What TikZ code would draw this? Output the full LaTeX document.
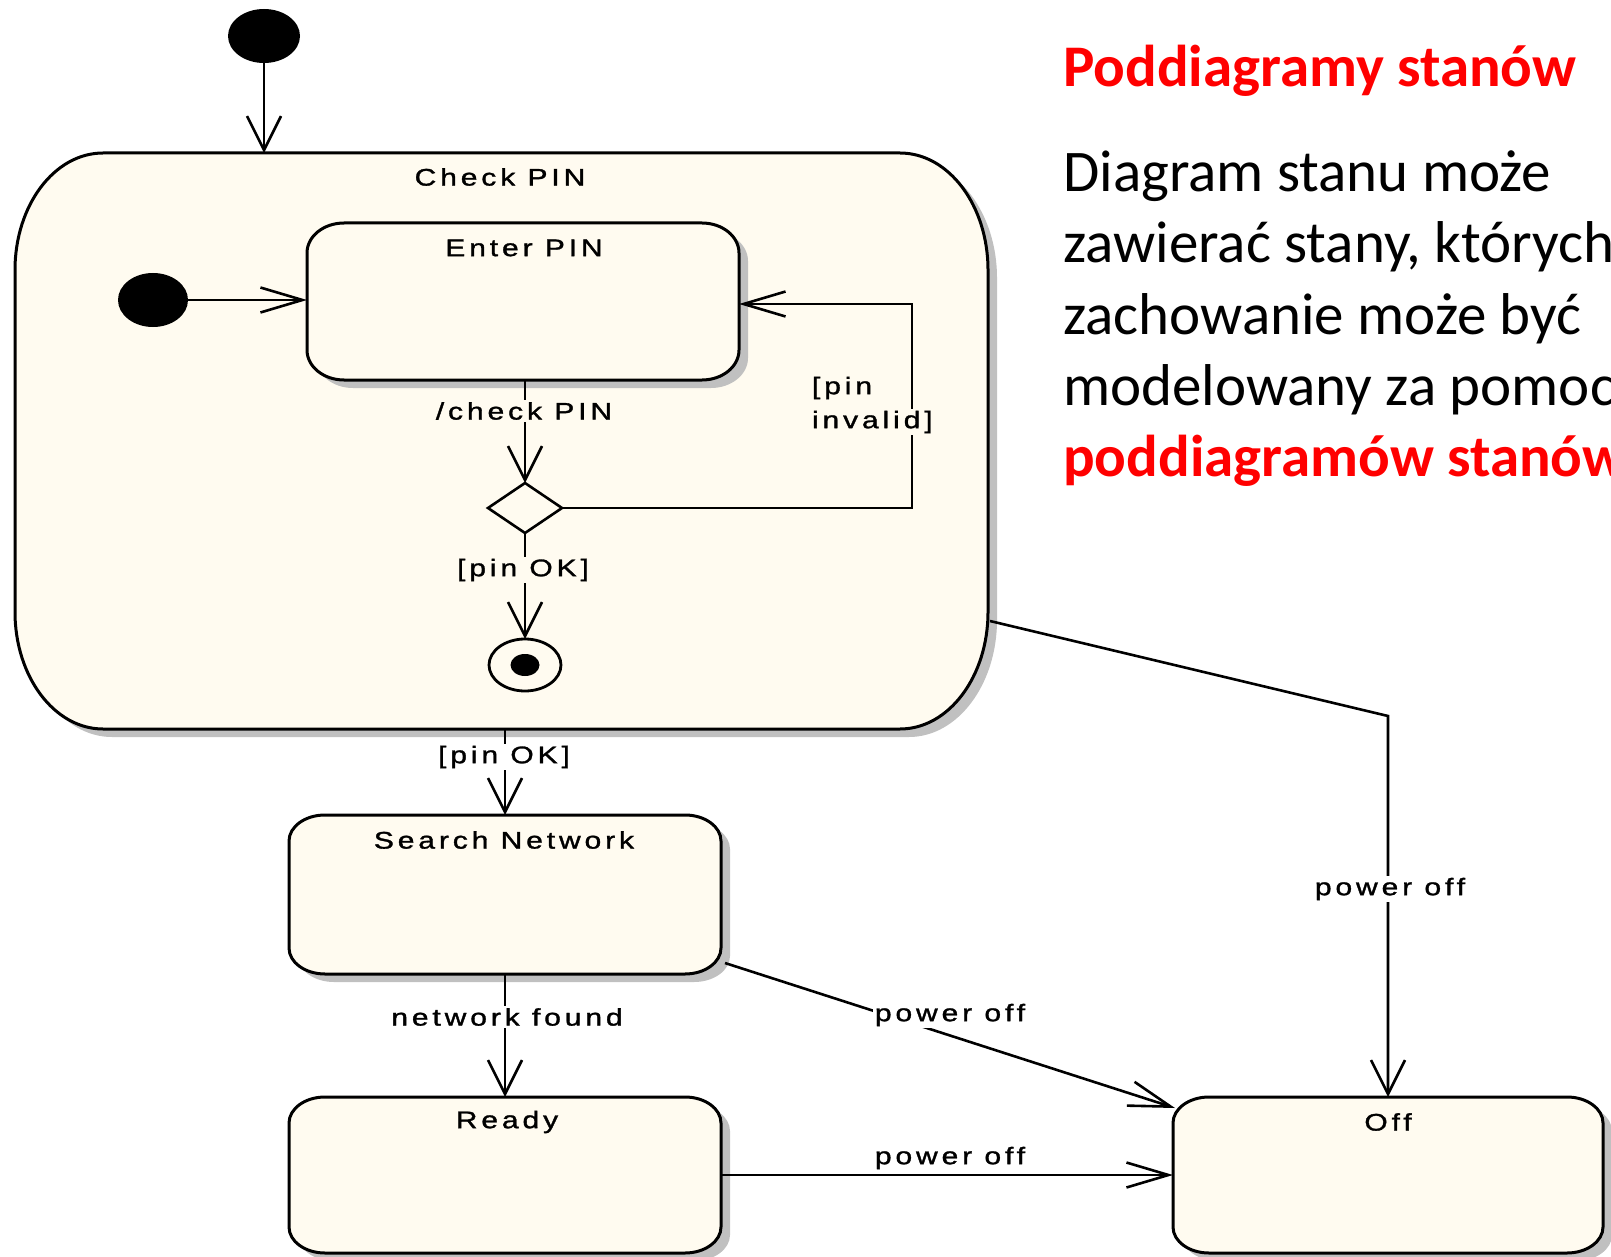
\documentclass[tikz,border=0pt]{standalone}
\usepackage{fontspec}
\usepackage{graphicx}
\usetikzlibrary{arrows.meta,shapes.geometric,calc}
\setmainfont{Carlito}
\newfontfamily\umlfont{Liberation Sans}[LetterSpace=13,FakeBold=1.2]
\definecolor{statefill}{RGB}{255,251,240}
\definecolor{shadowgray}{RGB}{192,192,192}
\definecolor{titlered}{RGB}{255,0,0}

% UML labels: a wide, letter-spaced sans
\newcommand\umltext[1]{\scalebox{1.25}[1]{\umlfont\fontsize{24}{28}\selectfont #1}}

% state with elliptic corners: x0 y0 x1 y1 rx ry (y grows downwards)
\newcommand\drawstate[6]{%
  \fill[shadowgray, shift={(9,8)}]
    ({#1+#5},#2) -- ({#3-#5},#2) arc[start angle=-90,end angle=0,x radius=#5,y radius=#6]
    -- (#3,{#4-#6}) arc[start angle=0,end angle=90,x radius=#5,y radius=#6]
    -- ({#1+#5},#4) arc[start angle=90,end angle=180,x radius=#5,y radius=#6]
    -- (#1,{#2+#6}) arc[start angle=180,end angle=270,x radius=#5,y radius=#6] -- cycle;
  \filldraw[fill=statefill, line width=3pt]
    ({#1+#5},#2) -- ({#3-#5},#2) arc[start angle=-90,end angle=0,x radius=#5,y radius=#6]
    -- (#3,{#4-#6}) arc[start angle=0,end angle=90,x radius=#5,y radius=#6]
    -- ({#1+#5},#4) arc[start angle=90,end angle=180,x radius=#5,y radius=#6]
    -- (#1,{#2+#6}) arc[start angle=180,end angle=270,x radius=#5,y radius=#6] -- cycle;
}

\tikzset{
  area/.style={rectangle, inner sep=0pt, outer sep=0pt},
  lbl/.style={inner sep=2pt, outer sep=0pt},
  varrow/.style={-{Straight Barb[length=34pt,width=34pt]}, line width=2.6pt},
  harrow/.style={-{Straight Barb[length=42pt,width=25pt]}, line width=2.6pt},
  bigtext/.style={anchor=base west, inner sep=0pt, font=\fontsize{59}{70}\selectfont},
}

\begin{document}
\begin{tikzpicture}[x=1pt,y=-1pt]
\clip (0,0) rectangle (1611,1257);
\fill[white] (0,0) rectangle (1611,1257);

% composite state and nested parts
\drawstate{15}{153}{988}{729}{88}{117}
\node[area, minimum width=973pt, minimum height=576pt] (check) at (501.5,441) {};
\drawstate{307}{223}{739}{380}{37}{30}
\node[area, minimum width=432pt, minimum height=157pt] (enter) at (523,301.5) {};

% simple states
\drawstate{289}{815}{721}{974}{36}{26}
\node[area, minimum width=432pt, minimum height=159pt] (search) at (505,894.5) {};
\drawstate{289}{1097}{721}{1253}{36}{26}
\node[area, minimum width=432pt, minimum height=156pt] (ready) at (505,1175) {};
\drawstate{1173}{1097}{1603}{1253}{36}{26}
\node[area, minimum width=430pt, minimum height=156pt] (off) at (1388,1175) {};

% pseudo states
\node[ellipse, fill=black, inner sep=0pt, outer sep=0pt, minimum width=72pt, minimum height=54pt] (init0) at (264,36) {};
\node[ellipse, fill=black, inner sep=0pt, outer sep=0pt, minimum width=70pt, minimum height=54pt] (init1) at (153,300) {};
\node[diamond, draw, line width=2.6pt, fill=statefill, inner sep=0pt, outer sep=0pt, minimum width=74pt, minimum height=50pt] (decision) at (525,508) {};
\node[ellipse, draw, line width=2.8pt, inner sep=0pt, outer sep=0pt, minimum width=72pt, minimum height=52pt] (final) at (525,665) {};
\node[ellipse, fill=black, inner sep=0pt, minimum width=29pt, minimum height=22pt] (finaldot) at (final) {};

% state names
\node[lbl] (checkname) at (500,177) {\umltext{Check PIN}};
\node[lbl] (entername) at (524,248) {\umltext{Enter PIN}};
\node[lbl] (searchname) at (504,840) {\umltext{Search Network}};
\node[lbl] (readyname) at (507,1122) {\umltext{Ready}};
\node[lbl] (offname) at (1388,1122) {\umltext{Off}};

% transitions inside Check PIN
\draw[varrow] (init0) -- (init0 |- check.north);
\draw[harrow] (init1) -- (init1 -| enter.west);
\draw[varrow] (decision |- enter.south) -- (decision.north);
\draw[varrow] (decision.south) -- (final.north);
\coordinate (loopA) at (912,508);
\coordinate (loopB) at (912,304);
\draw[harrow] (decision.east) -- (loopA) -- (loopB) -- (loopB -| enter.east);

\node[lbl, fill=statefill] (checklbl) at (524,411) {\umltext{/check PIN}};
\node[lbl, fill=statefill] (okinner) at (523,570) {\umltext{[pin OK]}};
\node[lbl, anchor=west] (invalid1) at (810,388) {\umltext{[pin}};
\node[lbl, anchor=west, fill=statefill] (invalid2) at (810,422) {\umltext{invalid]}};

% transitions between states
\draw[varrow] (check.south -| search) -- (search.north);
\node[lbl, fill=white] (okouter) at (504,757) {\umltext{[pin OK]}};
\draw[varrow] (search.south) -- (ready.north);
\node[lbl, fill=white] (found) at (507,1017) {\umltext{network found}};
\draw[harrow] (ready.east) -- (off.west);
\node[lbl] (off1) at (950,1158) {\umltext{power off}};
\draw[harrow] ($(search.south east)+(4,-11)$) -- ($(off.north west)+(2,11)$);
\node[lbl, fill=white] (off2) at (950,1015) {\umltext{power off}};
\coordinate (bend) at (1388,716);
\draw[varrow] ($(check.south east)+(2,-108)$) -- (bend) -- (off.north);
\node[lbl, fill=white] (off3) at (1390,889) {\umltext{power off}};

% explanatory text
\node[bigtext, font=\fontsize{59}{70}\selectfont\bfseries, text=titlered] (title) at (1063,87) {Poddiagramy stanów};
\node[bigtext] (line1) at (1063,192) {Diagram stanu może};
\node[bigtext] (line2) at (1063,263) {zawierać stany, których};
\node[bigtext] (line3) at (1063,334) {zachowanie może być};
\node[bigtext] (line4) at (1063,405) {modelowany za pomocą};
\node[bigtext, font=\fontsize{59}{70}\selectfont\bfseries, text=titlered] (line5) at (1063,476) {poddiagramów stanów};
\end{tikzpicture}
\end{document}
